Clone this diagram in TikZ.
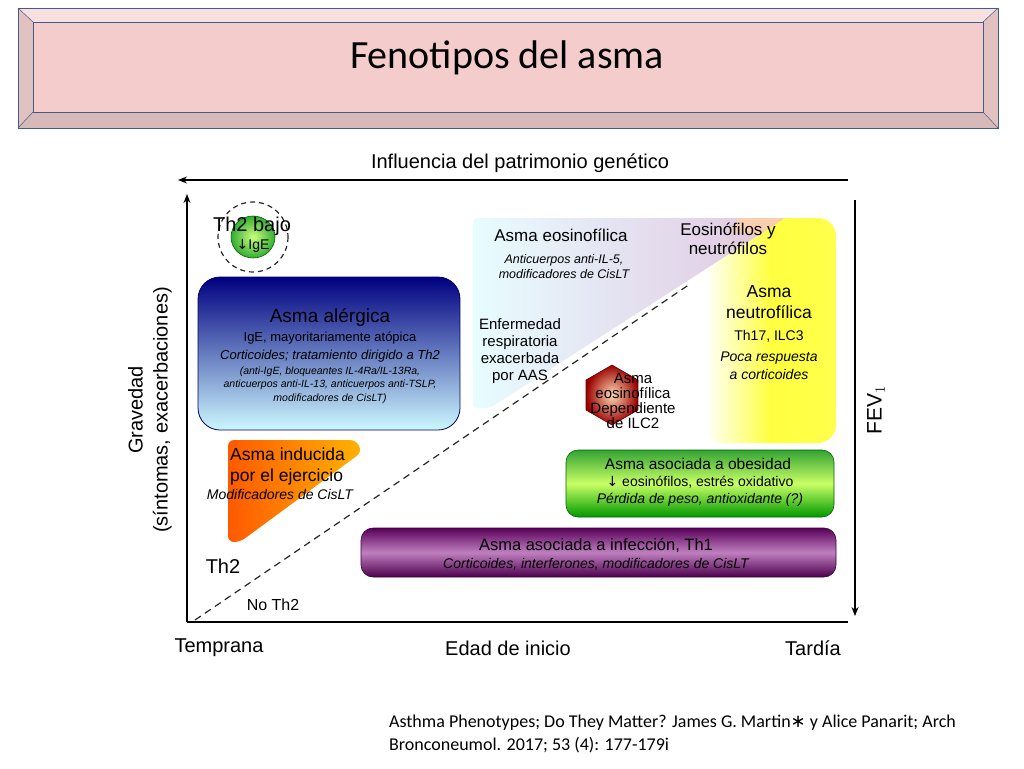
\documentclass[tikz,border=0pt]{standalone}
\usepackage{fontspec}
\setmainfont{Liberation Sans}
\newfontfamily\calfnt{Carlito}
\newfontfamily\dvsfnt{DejaVu Sans}
\usetikzlibrary{arrows.meta,shapes.geometric,fadings}
\definecolor{pinkt}{HTML}{F4CCCC}
\definecolor{frame}{HTML}{3F5D8A}
\begin{document}
\begin{tikzpicture}[x=1pt,y=-1pt,
  txt/.style={inner sep=0pt,align=center,font=\fontsize{15}{17}\selectfont},
  sm/.style={inner sep=0pt,align=center,font=\fontsize{12.5}{15}\selectfont\itshape},
  ax/.style={line width=1.3pt,-{Stealth[length=9pt,width=7pt]}}]
\useasboundingbox[fill=white] (0,0) rectangle (1024,768);
% title banner
\fill[pinkt!85!gray] (18,8) rectangle (998,128);
\fill[pinkt!60!white] (18,8) -- (998,8) -- (983,22) -- (33,22) -- cycle;
\fill[pinkt!75!gray] (18,128) -- (998,128) -- (983,112) -- (33,112) -- cycle;
\fill[pinkt] (33,22) rectangle (983,112);
\draw[frame,line width=0.8pt] (18,8) rectangle (998,128);
\draw[frame,line width=0.6pt] (33,22) rectangle (983,112);
\draw[frame,line width=0.5pt] (18,8)--(33,22) (998,8)--(983,22) (18,128)--(33,112) (998,128)--(983,112);
\node[inner sep=0pt,font=\calfnt\fontsize{40}{46}\selectfont] (title) at (507,58) {Fenotipos del asma};
% axes
\coordinate (o) at (187,622);
\coordinate (ytop) at (187,194);
\coordinate (xr) at (848,622);
\coordinate (gR) at (848,180);
\coordinate (gL) at (178,180);
\coordinate (fT) at (855,200);
\coordinate (fB) at (855,616);
\draw[ax] (gR) -- (gL);
\draw[ax] (o) -- (ytop);
\draw[line width=1.3pt] (o) -- (xr);
\draw[ax] (fT) -- (fB);
\node[txt,font=\fontsize{20}{23}\selectfont] (gen) at (520,163) {Influencia del patrimonio genético};
\node[txt,font=\fontsize{20}{25}\selectfont,rotate=90] (grav) at (150,410) {Gravedad\\(síntomas, exacerbaciones)};
\node[txt,font=\fontsize{21}{23}\selectfont,rotate=90] (fev) at (876,410) {FEV$_1$};
\node[txt,font=\fontsize{20}{23}\selectfont] (temp) at (219,648) {Temprana};
\node[txt,font=\fontsize{20}{23}\selectfont] (edad) at (508,648) {Edad de inicio};
\node[txt,font=\fontsize{20}{23}\selectfont] (tard) at (813,648) {Tardía};
\coordinate (d1) at (195,620);
\coordinate (d2) at (690,284);
\draw[line width=1.2pt,dash pattern=on 7pt off 5pt,gray!30!black] (d1) -- (d2);
\node[txt,font=\fontsize{20}{23}\selectfont] (th2) at (223,566) {Th2};
\node[txt,font=\fontsize{16}{18}\selectfont] (noth2) at (273,605) {No Th2};
% Th2 bajo
\draw[dash pattern=on 5pt off 4pt,line width=1.2pt,gray!30!black] (253,237) circle (35);
\shade[inner color=yellow!60!green!50,outer color=green!60!black!80] (253,237) ellipse (22 and 21);
\draw[green!40!black,line width=0.6pt] (253,237) ellipse (22 and 21);
\node[txt,font=\fontsize{20}{23}\selectfont] (th2b) at (252,226) {Th2 bajo};
\node[txt,font=\fontsize{14}{16}\selectfont] (ige) at (253,246) {{\dvsfnt↓}IgE};
% alergica
\shade[top color=blue!50!black,bottom color=blue!15!cyan!20,rounded corners=22pt] (198,277) rectangle (460,430);
\draw[blue!40!black,line width=0.8pt,rounded corners=22pt] (198,277) rectangle (460,430);
\node[txt,font=\fontsize{19}{21}\selectfont] (aler) at (330,317) {Asma alérgica};
\node[txt,font=\fontsize{13}{15}\selectfont] (aler2) at (330,338) {IgE, mayoritariamente atópica};
\node[sm,font=\fontsize{13}{15}\selectfont\itshape] (aler3) at (330,356) {Corticoides; tratamiento dirigido a Th2};
\node[sm,font=\fontsize{10.5}{13.5}\selectfont\itshape] (aler4) at (330,385) {(anti-IgE, bloqueantes IL-4Ra/IL-13Ra,\\anticuerpos anti-IL-13, anticuerpos anti-TSLP,\\modificadores de CisLT)};
% inducida
\shade[left color=orange!70!red,right color=orange!60!yellow,rounded corners=6pt] (228,440) -- (356,440) -- (362,452) -- (240,542) -- (228,542) -- cycle;
\node[txt,font=\fontsize{17.5}{21}\selectfont,align=left,anchor=west] (ind) at (230,466) {Asma inducida\\por el ejercicio};
\node[sm,font=\fontsize{14}{16}\selectfont\itshape] (ind2) at (280,494) {Modificadores de CisLT};
% neutrofilica
\shade[left color=white,right color=yellow!70,middle color=yellow!75,rounded corners=18pt] (705,218) rectangle (836,443);
% eosinofilica
\shade[left color=blue!8!cyan!10,right color=violet!25,rounded corners=4pt,opacity=0.9] (473,218) -- (785,218) -- (490,408) -- (473,408) -- cycle;
\fill[orange!35,opacity=0.8] (740,218) -- (785,218) -- (760,234) -- (730,232) -- cycle;
\node[txt,font=\fontsize{17}{19}\selectfont] (eos) at (561,235) {Asma eosinofílica};
\node[sm] (eos2) at (564,267) {Anticuerpos anti-IL-5,\\modificadores de CisLT};
\node[txt,font=\fontsize{15}{17}\selectfont] (erea) at (520,351) {Enfermedad\\respiratoria\\exacerbada\\por AAS};
\node[txt,font=\fontsize{17}{19}\selectfont] (eyn) at (728,239) {Eosinófilos y\\neutrófilos};
\node[txt,font=\fontsize{17.5}{21}\selectfont] (neu) at (769,302) {Asma\\neutrofílica};
\node[txt,font=\fontsize{14}{16}\selectfont] (neu2) at (769,336) {Th17, ILC3};
\node[sm,font=\fontsize{14}{18}\selectfont\itshape] (neu3) at (769,366) {Poca respuesta\\a corticoides};
% hexagon
\node[regular polygon,regular polygon sides=6,shape border rotate=30,minimum size=60pt,inner color=orange!30!white,outer color=red!60!black,draw=red!40!black,line width=0.6pt] (hex) at (612,395) {};
\node[txt,font=\fontsize{15}{15}\selectfont] (hexs) at (633,401) {Asma\\eosinofílica\\Dependiente\\de ILC2};
% obesidad
\shade[top color=green!55!black!80,bottom color=green!60!black,middle color=green!35!yellow!60,rounded corners=12pt] (566,450) rectangle (834,517);
\draw[green!40!black,rounded corners=12pt,line width=0.6pt] (566,450) rectangle (834,517);
\node[txt,font=\fontsize{15.5}{17}\selectfont] (obe) at (698,464) {Asma asociada a obesidad};
\node[txt,font=\fontsize{14}{16}\selectfont] (obe2) at (700,482) {{\dvsfnt↓} eosinófilos, estrés oxidativo};
\node[sm,font=\fontsize{14}{16}\selectfont\itshape] (obe3) at (700,500) {Pérdida de peso, antioxidante (?)};
% infeccion
\shade[top color=violet!70!black,bottom color=violet!60!black,middle color=violet!50,rounded corners=12pt] (361,528) rectangle (836,577);
\draw[violet!40!black,rounded corners=12pt,line width=0.6pt] (361,528) rectangle (836,577);
\node[txt,font=\fontsize{16.5}{18}\selectfont] (inf) at (596,545) {Asma asociada a infección, Th1};
\node[sm,font=\fontsize{14}{16}\selectfont\itshape] (inf2) at (596,564) {Corticoides, interferones, modificadores de CisLT};
% citation
\node[inner sep=0pt,align=left,anchor=north west,font=\calfnt\fontsize{18}{23}\selectfont] (cit) at (389,715) {Asthma Phenotypes; Do They Matter? James G. Martin{\dvsfnt∗} y Alice Panarit; Arch\\Bronconeumol. 2017; 53 (4): 177-179i};
\end{tikzpicture}
\end{document}
